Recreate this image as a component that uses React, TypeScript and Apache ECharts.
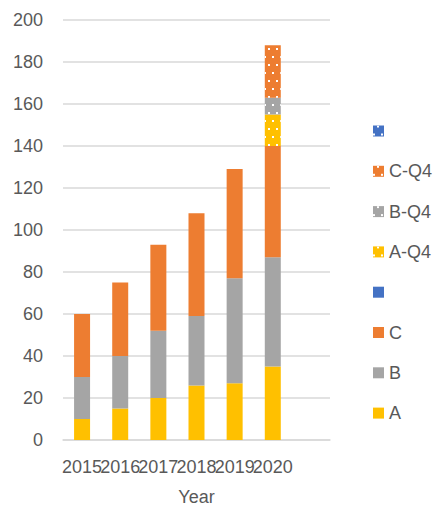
import React, { useEffect, useRef } from "react";
import * as echarts from "echarts";

const years = ["2015", "2016", "2017", "2018", "2019", "2020", ""];
const aValues = [10, 15, 20, 26, 27, 35];
const bValues = [20, 25, 32, 33, 50, 52];
const cValues = [30, 35, 41, 49, 52, 53];
const aQ4Values = ["-", "-", "-", "-", "-", 15];
const bQ4Values = ["-", "-", "-", "-", "-", 8];
const cQ4Values = ["-", "-", "-", "-", "-", 25];
const blankValues = ["-", "-", "-", "-", "-", "-"];
const yTicks = { min: 0, max: 200, interval: 20 };

const COLORS = { A: "#FFC000", B: "#A5A5A5", C: "#ED7D31", blank: "#4472C4" };
const TEXT = "#595959";
const FONT = "Liberation Sans";

const dots = {
  symbol: "rect",
  symbolSize: 1,
  color: "#ffffff",
  dashArrayX: [[2, 6], [0, 4, 2, 2]],
  dashArrayY: [2, 6],
  rotation: 0,
};

export default function App() {
  const ref = useRef<HTMLDivElement>(null);
  useEffect(() => {
    if (!ref.current) return;
    const chart = echarts.init(ref.current, undefined, { renderer: "svg" });
    const bar = (name: string, data: any[], color: string, decal?: any) => ({
      name,
      type: "bar",
      stack: "total",
      barWidth: 16,
      data,
      itemStyle: decal ? { color, decal } : { color },
    });
    chart.setOption({
      animation: false,
      textStyle: { fontFamily: FONT },
      grid: { left: 63, right: 106, top: 20, bottom: 68, containLabel: false, outerBoundsMode: "none" },
      legend: {
        orient: "vertical",
        left: 368,
        top: 116,
        itemWidth: 11,
        itemHeight: 11,
        itemGap: 20.3,
        icon: "rect",
        selectedMode: false,
        textStyle: { color: TEXT, fontSize: 18, fontFamily: FONT, lineHeight: 20 },
        data: ["  ", "C-Q4", "B-Q4", "A-Q4", " ", "C", "B", "A"],
      },
      xAxis: {
        type: "category",
        data: years,
        axisTick: { show: false },
        axisLine: { lineStyle: { color: "#D9D9D9", width: 1.5 } },
        axisLabel: { color: TEXT, fontSize: 18, margin: 18, interval: 0, fontFamily: FONT },
        name: "Year",
        nameLocation: "middle",
        nameGap: 48,
        nameTextStyle: { color: TEXT, fontSize: 18, fontFamily: FONT },
      },
      yAxis: {
        type: "value",
        min: yTicks.min,
        max: yTicks.max,
        interval: yTicks.interval,
        axisLine: { show: false },
        axisTick: { show: false },
        axisLabel: { color: TEXT, fontSize: 18, margin: 20, fontFamily: FONT },
        splitLine: { lineStyle: { color: "#D9D9D9", width: 1.5 } },
      },
      series: [
        bar("A", aValues, COLORS.A),
        bar("B", bValues, COLORS.B),
        bar("C", cValues, COLORS.C),
        bar(" ", blankValues, COLORS.blank),
        bar("A-Q4", aQ4Values, COLORS.A, dots),
        bar("B-Q4", bQ4Values, COLORS.B, dots),
        bar("C-Q4", cQ4Values, COLORS.C, dots),
        bar("  ", blankValues, COLORS.blank, dots),
      ],
    });
    return () => chart.dispose();
  }, []);
  return <div ref={ref} style={{ width: 436, height: 508, position: "absolute", left: 0, top: 0 }} />;
}
